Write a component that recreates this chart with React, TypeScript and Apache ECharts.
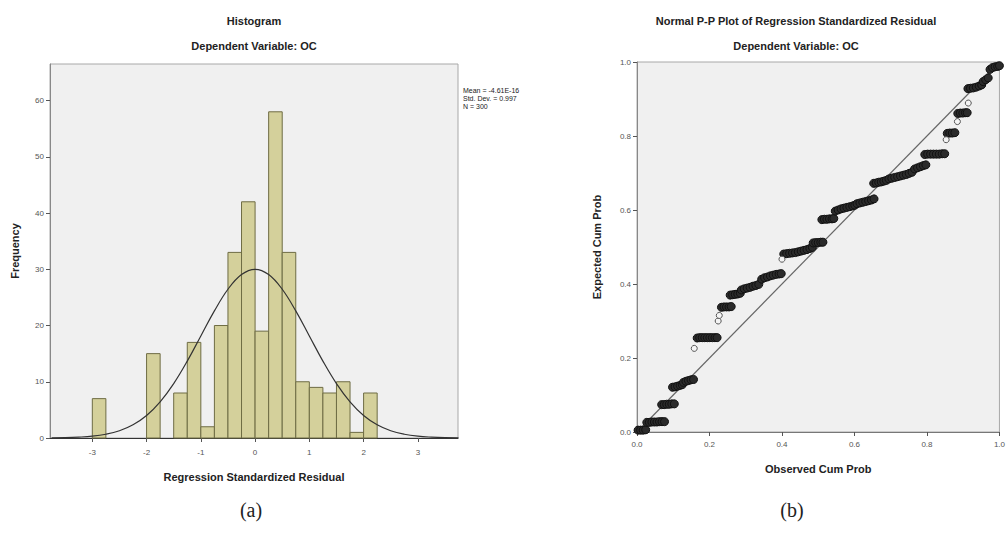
import React, { useEffect, useRef } from "react";
import * as echarts from "echarts";

// ---------- Histogram data ----------
const histBinStarts = [-3, -2, -1.5, -1.25, -1, -0.75, -0.5, -0.25, 0, 0.25, 0.5, 0.75, 1, 1.25, 1.5, 1.75, 2];
const histCounts = [7, 15, 8, 17, 2, 20, 33, 42, 19, 58, 33, 10, 9, 8, 10, 1, 8];
const binWidth = 0.25;
const histXTicks = [-3, -2, -1, 0, 1, 2, 3];
const histYTicks = [0, 10, 20, 30, 40, 50, 60];
const curveX = [-3.75, -3.5, -3.25, -3, -2.75, -2.5, -2.25, -2, -1.75, -1.5, -1.25, -1, -0.75, -0.5, -0.25, 0,
  0.25, 0.5, 0.75, 1, 1.25, 1.5, 1.75, 2, 2.25, 2.5, 2.75, 3, 3.25, 3.5, 3.75];
const curveY = [0.03, 0.06, 0.15, 0.32, 0.67, 1.29, 2.35, 4.01, 6.43, 9.67, 13.67, 18.14, 22.6, 26.45, 29.07, 30,
  29.07, 26.45, 22.6, 18.14, 13.67, 9.67, 6.43, 4.01, 2.35, 1.29, 0.67, 0.32, 0.15, 0.06, 0.03];
const statsLines = ["Mean = -4.61E-16", "Std. Dev. = 0.997", "N = 300"];

// ---------- P-P plot data ----------
const ppDiagonal = [[0, 0], [1, 1]];
const ppFilled = [
  [0.003, 0.005], [0.010, 0.005], [0.017, 0.005], [0.024, 0.006],
  [0.027, 0.026], [0.034, 0.026], [0.041, 0.027], [0.048, 0.027], [0.055, 0.027], [0.062, 0.028], [0.069, 0.028], [0.076, 0.028],
  [0.068, 0.074], [0.075, 0.074], [0.082, 0.075], [0.089, 0.075], [0.096, 0.076], [0.103, 0.076],
  [0.098, 0.121], [0.105, 0.122], [0.112, 0.124], [0.119, 0.126], [0.125, 0.128],
  [0.128, 0.134], [0.135, 0.137], [0.142, 0.139], [0.149, 0.141], [0.156, 0.142],
  [0.166, 0.254], [0.173, 0.255], [0.180, 0.255], [0.187, 0.255], [0.194, 0.255], [0.201, 0.255], [0.208, 0.255], [0.215, 0.255], [0.221, 0.255],
  [0.233, 0.337], [0.240, 0.338], [0.247, 0.338], [0.254, 0.338], [0.260, 0.339],
  [0.257, 0.370], [0.264, 0.371], [0.271, 0.372], [0.278, 0.373], [0.285, 0.375],
  [0.288, 0.384], [0.296, 0.387], [0.304, 0.389], [0.312, 0.391], [0.320, 0.394], [0.328, 0.396], [0.336, 0.399],
  [0.344, 0.413], [0.352, 0.417], [0.360, 0.419], [0.368, 0.422], [0.376, 0.424], [0.384, 0.426], [0.392, 0.427], [0.398, 0.428],
  [0.405, 0.481], [0.413, 0.482], [0.421, 0.483], [0.429, 0.484], [0.437, 0.485], [0.445, 0.487], [0.453, 0.489], [0.461, 0.491], [0.469, 0.493], [0.477, 0.496], [0.484, 0.499],
  [0.486, 0.511], [0.493, 0.512], [0.500, 0.512], [0.507, 0.513], [0.513, 0.513],
  [0.510, 0.574], [0.517, 0.575], [0.524, 0.575], [0.531, 0.576], [0.538, 0.576], [0.543, 0.577],
  [0.547, 0.597], [0.555, 0.600], [0.563, 0.603], [0.571, 0.605], [0.579, 0.607], [0.587, 0.609], [0.595, 0.611], [0.601, 0.613],
  [0.607, 0.617], [0.615, 0.619], [0.623, 0.621], [0.631, 0.623], [0.639, 0.625], [0.647, 0.627], [0.654, 0.630],
  [0.653, 0.672], [0.660, 0.673], [0.667, 0.675], [0.674, 0.676], [0.681, 0.678], [0.688, 0.680],
  [0.695, 0.684], [0.703, 0.686], [0.711, 0.688], [0.719, 0.690], [0.727, 0.692], [0.735, 0.694], [0.743, 0.696], [0.751, 0.699], [0.759, 0.702],
  [0.766, 0.711], [0.774, 0.714], [0.782, 0.717], [0.790, 0.720], [0.797, 0.722],
  [0.794, 0.750], [0.802, 0.751], [0.810, 0.751], [0.818, 0.751], [0.826, 0.751], [0.834, 0.751], [0.842, 0.752], [0.849, 0.752],
  [0.856, 0.807], [0.863, 0.808], [0.870, 0.808], [0.877, 0.809],
  [0.885, 0.861], [0.892, 0.862], [0.899, 0.862], [0.906, 0.863], [0.911, 0.863],
  [0.913, 0.928], [0.920, 0.929], [0.928, 0.930], [0.936, 0.932], [0.944, 0.935], [0.951, 0.938],
  [0.955, 0.947], [0.962, 0.952], [0.969, 0.957],
  [0.974, 0.980], [0.981, 0.985], [0.988, 0.987], [0.995, 0.988], [1.0, 0.990],
];
const ppOpen = [
  [0.158, 0.226], [0.224, 0.300], [0.227, 0.315], [0.400, 0.467], [0.853, 0.790], [0.884, 0.839], [0.914, 0.889],
];

const FONT = '"Liberation Sans", Arial, sans-serif';
const SERIF = '"Liberation Serif", "Times New Roman", serif';

export default function App() {
  const ref = useRef<HTMLDivElement>(null);

  useEffect(() => {
    if (!ref.current) return;
    const chart = echarts.init(ref.current, null, { renderer: "svg" });

    const histData = histBinStarts.map((s, i) => [s, s + binWidth, histCounts[i]]);
    const curveData = curveX.map((x, i) => [x, curveY[i]]);

    const axisLabelStyle = { color: "#555", fontSize: 8, fontFamily: FONT };
    const nameStyle = { color: "#222", fontSize: 11, fontWeight: "bold" as const, fontFamily: FONT };

    const textEl = (text: string, x: number, y: number, size: number, bold = false, family = FONT, align = "center") => ({
      type: "text",
      x,
      y,
      style: {
        text,
        fill: "#222",
        fontSize: size,
        fontWeight: bold ? "bold" : "normal",
        fontFamily: family,
        align,
        verticalAlign: "middle",
        textAlign: align,
        textVerticalAlign: "middle",
      },
    });

    chart.setOption({
      animation: false,
      backgroundColor: "#ffffff",
      grid: [
        { left: 50, top: 64, width: 408, height: 374, show: true, backgroundColor: "#f0f0f0", borderColor: "#a8a8a8", borderWidth: 1 },
        { left: 637, top: 62, width: 370, height: 370, show: true, backgroundColor: "#f0f0f0", borderColor: "#a8a8a8", borderWidth: 1 },
      ],
      xAxis: [
        {
          gridIndex: 0, type: "value", min: -3.78, max: 3.74,
          splitLine: { show: false },
          axisLine: { show: true, onZero: false, lineStyle: { color: "#333", width: 1 } },
          axisTick: { show: true, length: 4, customValues: histXTicks, lineStyle: { color: "#555" } },
          axisLabel: { ...axisLabelStyle, margin: 10, customValues: histXTicks, formatter: (v: number) => String(v) },
          name: "Regression Standardized Residual", nameLocation: "middle", nameGap: 33, nameTextStyle: nameStyle,
        },
        {
          gridIndex: 1, type: "value", min: 0, max: 1, interval: 0.2,
          splitLine: { show: false },
          axisLine: { show: true, onZero: false, lineStyle: { color: "#777", width: 1 } },
          axisTick: { show: true, length: 4, lineStyle: { color: "#555" } },
          axisLabel: { ...axisLabelStyle, margin: 8, formatter: (v: number) => v.toFixed(1) },
          name: "Observed Cum Prob", nameLocation: "middle", nameGap: 31, nameTextStyle: nameStyle,
        },
      ],
      yAxis: [
        {
          gridIndex: 0, type: "value", min: 0, max: 66.5,
          splitLine: { show: false },
          axisLine: { show: true, onZero: false, lineStyle: { color: "#888", width: 1 } },
          axisTick: { show: true, length: 4, customValues: histYTicks, lineStyle: { color: "#555" } },
          axisLabel: { ...axisLabelStyle, margin: 6, customValues: histYTicks, formatter: (v: number) => String(v) },
          name: "Frequency", nameLocation: "middle", nameGap: 30, nameRotate: 90, nameTextStyle: nameStyle,
        },
        {
          gridIndex: 1, type: "value", min: 0, max: 1, interval: 0.2,
          splitLine: { show: false },
          axisLine: { show: true, onZero: false, lineStyle: { color: "#888", width: 1 } },
          axisTick: { show: true, length: 4, lineStyle: { color: "#555" } },
          axisLabel: { ...axisLabelStyle, margin: 6, formatter: (v: number) => v.toFixed(1) },
          name: "Expected Cum Prob", nameLocation: "middle", nameGap: 35, nameRotate: 90, nameTextStyle: nameStyle,
        },
      ],
      series: [
        {
          type: "custom",
          xAxisIndex: 0,
          yAxisIndex: 0,
          data: histData,
          encode: { x: [0, 1], y: 2 },
          renderItem: (params: any, api: any) => {
            const p0 = api.coord([api.value(0), api.value(2)]);
            const p1 = api.coord([api.value(1), 0]);
            return {
              type: "rect",
              shape: { x: p0[0], y: p0[1], width: p1[0] - p0[0], height: p1[1] - p0[1] },
              style: { fill: "#d4d09b", stroke: "#6e6c44", lineWidth: 1 },
            };
          },
          z: 2,
        },
        {
          type: "line",
          xAxisIndex: 0,
          yAxisIndex: 0,
          data: curveData,
          smooth: 0.4,
          symbol: "none",
          lineStyle: { color: "#333", width: 1.2 },
          z: 3,
        },
        {
          type: "line",
          xAxisIndex: 1,
          yAxisIndex: 1,
          data: ppDiagonal,
          symbol: "none",
          lineStyle: { color: "#666", width: 1.2 },
          z: 2,
        },
        {
          type: "scatter",
          xAxisIndex: 1,
          yAxisIndex: 1,
          data: ppFilled,
          symbol: "circle",
          symbolSize: 8,
          itemStyle: { color: "#2b2b2b", borderColor: "#111", borderWidth: 1, opacity: 1 },
          z: 3,
        },
        {
          type: "scatter",
          xAxisIndex: 1,
          yAxisIndex: 1,
          data: ppOpen,
          symbol: "circle",
          symbolSize: 6,
          itemStyle: { color: "#f4f4f4", borderColor: "#555", borderWidth: 1, opacity: 1 },
          z: 4,
        },
      ],
      graphic: [
        textEl("Histogram", 254, 21, 11, true),
        textEl("Dependent Variable: OC", 254, 46, 11, true),
        textEl("Normal P-P Plot of Regression Standardized Residual", 796, 21, 11, true),
        textEl("Dependent Variable: OC", 796, 46, 11, true),
        ...statsLines.map((t, i) => textEl(t, 463, 90 + i * 8, 7, false, FONT, "left")),
        textEl("(a)", 251, 510, 20, false, SERIF),
        textEl("(b)", 792, 510, 20, false, SERIF),
      ],
    });

    return () => chart.dispose();
  }, []);

  return (
    <div
      ref={ref}
      style={{ position: "fixed", left: 0, top: 0, width: 1008, height: 534 }}
    />
  );
}
